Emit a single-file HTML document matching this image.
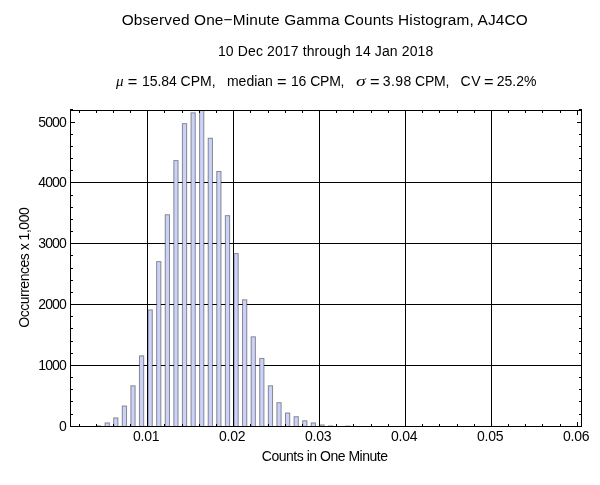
<!DOCTYPE html>
<html><head><meta charset="utf-8"><title>Histogram</title>
<style>
html,body{margin:0;padding:0;background:#fff;}
body{width:600px;height:485px;overflow:hidden;position:relative;font-family:"Liberation Sans",sans-serif;color:#000;}
svg{position:absolute;left:0;top:0;will-change:transform;}
text{font-family:"Liberation Sans",sans-serif;fill:#000;}
.gi{font-family:"Liberation Serif",serif;font-style:italic;}
</style></head><body>
<svg width="600" height="485" viewBox="0 0 600 485">

<g stroke="#000" stroke-width="1" shape-rendering="crispEdges">
<line x1="147.5" y1="110" x2="147.5" y2="427"/>
<line x1="233.5" y1="110" x2="233.5" y2="427"/>
<line x1="319.5" y1="110" x2="319.5" y2="427"/>
<line x1="405.5" y1="110" x2="405.5" y2="427"/>
<line x1="491.5" y1="110" x2="491.5" y2="427"/>
<line x1="70" y1="365.5" x2="582" y2="365.5"/>
<line x1="70" y1="304.5" x2="582" y2="304.5"/>
<line x1="70" y1="243.5" x2="582" y2="243.5"/>
<line x1="70" y1="182.5" x2="582" y2="182.5"/>
</g>
<defs><clipPath id="c"><rect x="70" y="110.5" width="512" height="316"/></clipPath></defs>
<g clip-path="url(#c)" fill="#ccd2f7" stroke="#000" stroke-opacity="0.42" stroke-width="1">
<rect x="96.51" y="425.89" width="4.25" height="2.61"/>
<rect x="105.10" y="422.91" width="4.25" height="5.59"/>
<rect x="113.69" y="417.92" width="4.25" height="10.58"/>
<rect x="122.28" y="405.99" width="4.25" height="22.51"/>
<rect x="130.87" y="385.79" width="4.25" height="42.71"/>
<rect x="139.46" y="355.85" width="4.25" height="72.65"/>
<rect x="148.05" y="309.91" width="4.25" height="118.59"/>
<rect x="156.64" y="261.60" width="4.25" height="166.90"/>
<rect x="165.23" y="214.74" width="4.25" height="213.76"/>
<rect x="173.82" y="160.59" width="4.25" height="267.91"/>
<rect x="182.41" y="123.65" width="4.25" height="304.85"/>
<rect x="191.00" y="112.82" width="4.25" height="315.68"/>
<rect x="199.59" y="97.91" width="4.25" height="330.59"/>
<rect x="208.18" y="138.25" width="4.25" height="290.25"/>
<rect x="216.77" y="171.48" width="4.25" height="257.02"/>
<rect x="225.36" y="215.65" width="4.25" height="212.85"/>
<rect x="233.95" y="253.56" width="4.25" height="174.94"/>
<rect x="242.54" y="299.81" width="4.25" height="128.69"/>
<rect x="251.13" y="336.81" width="4.25" height="91.69"/>
<rect x="259.72" y="358.47" width="4.25" height="70.03"/>
<rect x="268.31" y="385.79" width="4.25" height="42.71"/>
<rect x="276.90" y="402.71" width="4.25" height="25.79"/>
<rect x="285.49" y="412.99" width="4.25" height="15.51"/>
<rect x="294.08" y="416.70" width="4.25" height="11.80"/>
<rect x="302.67" y="420.78" width="4.25" height="7.72"/>
<rect x="311.26" y="422.91" width="4.25" height="5.59"/>
<rect x="319.85" y="424.92" width="4.25" height="3.58"/>
<rect x="328.44" y="425.95" width="4.25" height="2.55"/>
<rect x="345.62" y="426.07" width="4.25" height="2.43"/>
</g>
<g stroke="#000" stroke-width="1" shape-rendering="crispEdges" fill="none">
<rect x="70.5" y="110.5" width="511" height="316"/>
<line x1="70" y1="109.5" x2="73" y2="109.5"/><line x1="579" y1="109.5" x2="582" y2="109.5"/>
<line x1="79.5" y1="426" x2="79.5" y2="424"/>
<line x1="79.5" y1="111" x2="79.5" y2="113"/>
<line x1="96.5" y1="426" x2="96.5" y2="424"/>
<line x1="96.5" y1="111" x2="96.5" y2="113"/>
<line x1="113.5" y1="426" x2="113.5" y2="424"/>
<line x1="113.5" y1="111" x2="113.5" y2="113"/>
<line x1="130.5" y1="426" x2="130.5" y2="424"/>
<line x1="130.5" y1="111" x2="130.5" y2="113"/>
<line x1="147.5" y1="426" x2="147.5" y2="422"/>
<line x1="147.5" y1="111" x2="147.5" y2="115"/>
<line x1="164.5" y1="426" x2="164.5" y2="424"/>
<line x1="164.5" y1="111" x2="164.5" y2="113"/>
<line x1="182.5" y1="426" x2="182.5" y2="424"/>
<line x1="182.5" y1="111" x2="182.5" y2="113"/>
<line x1="199.5" y1="426" x2="199.5" y2="424"/>
<line x1="199.5" y1="111" x2="199.5" y2="113"/>
<line x1="216.5" y1="426" x2="216.5" y2="424"/>
<line x1="216.5" y1="111" x2="216.5" y2="113"/>
<line x1="233.5" y1="426" x2="233.5" y2="422"/>
<line x1="233.5" y1="111" x2="233.5" y2="115"/>
<line x1="250.5" y1="426" x2="250.5" y2="424"/>
<line x1="250.5" y1="111" x2="250.5" y2="113"/>
<line x1="268.5" y1="426" x2="268.5" y2="424"/>
<line x1="268.5" y1="111" x2="268.5" y2="113"/>
<line x1="285.5" y1="426" x2="285.5" y2="424"/>
<line x1="285.5" y1="111" x2="285.5" y2="113"/>
<line x1="302.5" y1="426" x2="302.5" y2="424"/>
<line x1="302.5" y1="111" x2="302.5" y2="113"/>
<line x1="319.5" y1="426" x2="319.5" y2="422"/>
<line x1="319.5" y1="111" x2="319.5" y2="115"/>
<line x1="336.5" y1="426" x2="336.5" y2="424"/>
<line x1="336.5" y1="111" x2="336.5" y2="113"/>
<line x1="353.5" y1="426" x2="353.5" y2="424"/>
<line x1="353.5" y1="111" x2="353.5" y2="113"/>
<line x1="371.5" y1="426" x2="371.5" y2="424"/>
<line x1="371.5" y1="111" x2="371.5" y2="113"/>
<line x1="388.5" y1="426" x2="388.5" y2="424"/>
<line x1="388.5" y1="111" x2="388.5" y2="113"/>
<line x1="405.5" y1="426" x2="405.5" y2="422"/>
<line x1="405.5" y1="111" x2="405.5" y2="115"/>
<line x1="422.5" y1="426" x2="422.5" y2="424"/>
<line x1="422.5" y1="111" x2="422.5" y2="113"/>
<line x1="439.5" y1="426" x2="439.5" y2="424"/>
<line x1="439.5" y1="111" x2="439.5" y2="113"/>
<line x1="457.5" y1="426" x2="457.5" y2="424"/>
<line x1="457.5" y1="111" x2="457.5" y2="113"/>
<line x1="474.5" y1="426" x2="474.5" y2="424"/>
<line x1="474.5" y1="111" x2="474.5" y2="113"/>
<line x1="491.5" y1="426" x2="491.5" y2="422"/>
<line x1="491.5" y1="111" x2="491.5" y2="115"/>
<line x1="508.5" y1="426" x2="508.5" y2="424"/>
<line x1="508.5" y1="111" x2="508.5" y2="113"/>
<line x1="525.5" y1="426" x2="525.5" y2="424"/>
<line x1="525.5" y1="111" x2="525.5" y2="113"/>
<line x1="542.5" y1="426" x2="542.5" y2="424"/>
<line x1="542.5" y1="111" x2="542.5" y2="113"/>
<line x1="560.5" y1="426" x2="560.5" y2="424"/>
<line x1="560.5" y1="111" x2="560.5" y2="113"/>
<line x1="577.5" y1="426" x2="577.5" y2="422"/>
<line x1="577.5" y1="111" x2="577.5" y2="115"/>
<line x1="71" y1="426.5" x2="75" y2="426.5"/>
<line x1="581" y1="426.5" x2="577" y2="426.5"/>
<line x1="71" y1="414.5" x2="73" y2="414.5"/>
<line x1="581" y1="414.5" x2="579" y2="414.5"/>
<line x1="71" y1="401.5" x2="73" y2="401.5"/>
<line x1="581" y1="401.5" x2="579" y2="401.5"/>
<line x1="71" y1="389.5" x2="73" y2="389.5"/>
<line x1="581" y1="389.5" x2="579" y2="389.5"/>
<line x1="71" y1="377.5" x2="73" y2="377.5"/>
<line x1="581" y1="377.5" x2="579" y2="377.5"/>
<line x1="71" y1="365.5" x2="75" y2="365.5"/>
<line x1="581" y1="365.5" x2="577" y2="365.5"/>
<line x1="71" y1="353.5" x2="73" y2="353.5"/>
<line x1="581" y1="353.5" x2="579" y2="353.5"/>
<line x1="71" y1="341.5" x2="73" y2="341.5"/>
<line x1="581" y1="341.5" x2="579" y2="341.5"/>
<line x1="71" y1="328.5" x2="73" y2="328.5"/>
<line x1="581" y1="328.5" x2="579" y2="328.5"/>
<line x1="71" y1="316.5" x2="73" y2="316.5"/>
<line x1="581" y1="316.5" x2="579" y2="316.5"/>
<line x1="71" y1="304.5" x2="75" y2="304.5"/>
<line x1="581" y1="304.5" x2="577" y2="304.5"/>
<line x1="71" y1="292.5" x2="73" y2="292.5"/>
<line x1="581" y1="292.5" x2="579" y2="292.5"/>
<line x1="71" y1="280.5" x2="73" y2="280.5"/>
<line x1="581" y1="280.5" x2="579" y2="280.5"/>
<line x1="71" y1="268.5" x2="73" y2="268.5"/>
<line x1="581" y1="268.5" x2="579" y2="268.5"/>
<line x1="71" y1="255.5" x2="73" y2="255.5"/>
<line x1="581" y1="255.5" x2="579" y2="255.5"/>
<line x1="71" y1="243.5" x2="75" y2="243.5"/>
<line x1="581" y1="243.5" x2="577" y2="243.5"/>
<line x1="71" y1="231.5" x2="73" y2="231.5"/>
<line x1="581" y1="231.5" x2="579" y2="231.5"/>
<line x1="71" y1="219.5" x2="73" y2="219.5"/>
<line x1="581" y1="219.5" x2="579" y2="219.5"/>
<line x1="71" y1="207.5" x2="73" y2="207.5"/>
<line x1="581" y1="207.5" x2="579" y2="207.5"/>
<line x1="71" y1="195.5" x2="73" y2="195.5"/>
<line x1="581" y1="195.5" x2="579" y2="195.5"/>
<line x1="71" y1="182.5" x2="75" y2="182.5"/>
<line x1="581" y1="182.5" x2="577" y2="182.5"/>
<line x1="71" y1="170.5" x2="73" y2="170.5"/>
<line x1="581" y1="170.5" x2="579" y2="170.5"/>
<line x1="71" y1="158.5" x2="73" y2="158.5"/>
<line x1="581" y1="158.5" x2="579" y2="158.5"/>
<line x1="71" y1="146.5" x2="73" y2="146.5"/>
<line x1="581" y1="146.5" x2="579" y2="146.5"/>
<line x1="71" y1="134.5" x2="73" y2="134.5"/>
<line x1="581" y1="134.5" x2="579" y2="134.5"/>
<line x1="71" y1="122.5" x2="75" y2="122.5"/>
<line x1="581" y1="122.5" x2="577" y2="122.5"/>
</g>
<g font-size="14px">
<text x="66.8" y="431.0" text-anchor="end" textLength="7.2" lengthAdjust="spacing">0</text>
<text x="66.8" y="370.0" text-anchor="end" textLength="28.6" lengthAdjust="spacing">1000</text>
<text x="66.8" y="309.0" text-anchor="end" textLength="28.6" lengthAdjust="spacing">2000</text>
<text x="66.8" y="248.0" text-anchor="end" textLength="28.6" lengthAdjust="spacing">3000</text>
<text x="66.8" y="187.0" text-anchor="end" textLength="28.6" lengthAdjust="spacing">4000</text>
<text x="66.8" y="127.0" text-anchor="end" textLength="28.6" lengthAdjust="spacing">5000</text>
<text x="146.3" y="440.9" text-anchor="middle" textLength="26.4" lengthAdjust="spacing">0.01</text>
<text x="232.3" y="440.9" text-anchor="middle" textLength="26.4" lengthAdjust="spacing">0.02</text>
<text x="318.3" y="440.9" text-anchor="middle" textLength="26.4" lengthAdjust="spacing">0.03</text>
<text x="404.3" y="440.9" text-anchor="middle" textLength="26.4" lengthAdjust="spacing">0.04</text>
<text x="490.3" y="440.9" text-anchor="middle" textLength="26.4" lengthAdjust="spacing">0.05</text>
<text x="576.3" y="440.9" text-anchor="middle" textLength="26.4" lengthAdjust="spacing">0.06</text>
</g>
<text x="324.9" y="460.9" font-size="14px" text-anchor="middle" textLength="126.2" lengthAdjust="spacing">Counts in One Minute</text>
<text transform="translate(29,267.5) rotate(-90)" font-size="14px" text-anchor="middle" textLength="120.5" lengthAdjust="spacing">Occurrences x 1,000</text>
<text x="324.7" y="24.7" font-size="15.4px" text-anchor="middle" textLength="406" lengthAdjust="spacing">Observed One−Minute Gamma Counts Histogram, AJ4CO</text>
<text x="325.6" y="55.7" font-size="14px" text-anchor="middle" textLength="215.4" lengthAdjust="spacing">10 Dec 2017 through 14 Jan 2018</text>
<g font-size="14px">
<text transform="translate(116.0,85.7) scale(1.0,1)" class="gi" font-size="15px">μ</text>
<text transform="translate(127.8,86.7) scale(1.17,1)">=</text>
<text x="142.1" y="85.7" textLength="34.7" lengthAdjust="spacing">15.84</text>
<text x="180.6" y="85.7" textLength="35.0" lengthAdjust="spacing">CPM,</text>
<text x="226.9" y="85.7" textLength="46.0" lengthAdjust="spacing">median</text>
<text transform="translate(277.1,86.7) scale(1.17,1)">=</text>
<text x="291.1" y="85.7" textLength="15.1" lengthAdjust="spacing">16</text>
<text x="310.2" y="85.7" textLength="34.3" lengthAdjust="spacing">CPM,</text>
<text transform="translate(356.0,85.7) scale(1.32,1)" class="gi" font-size="15px">σ</text>
<text transform="translate(369.9,86.7) scale(1.17,1)">=</text>
<text x="382.7" y="85.7" textLength="28.6" lengthAdjust="spacing">3.98</text>
<text x="415.0" y="85.7" textLength="34.3" lengthAdjust="spacing">CPM,</text>
<text x="460.6" y="85.7" textLength="20.1" lengthAdjust="spacing">CV</text>
<text transform="translate(483.9,86.7) scale(1.17,1)">=</text>
<text x="496.7" y="85.7" textLength="39.7" lengthAdjust="spacing">25.2%</text>
</g>
</svg></body></html>
